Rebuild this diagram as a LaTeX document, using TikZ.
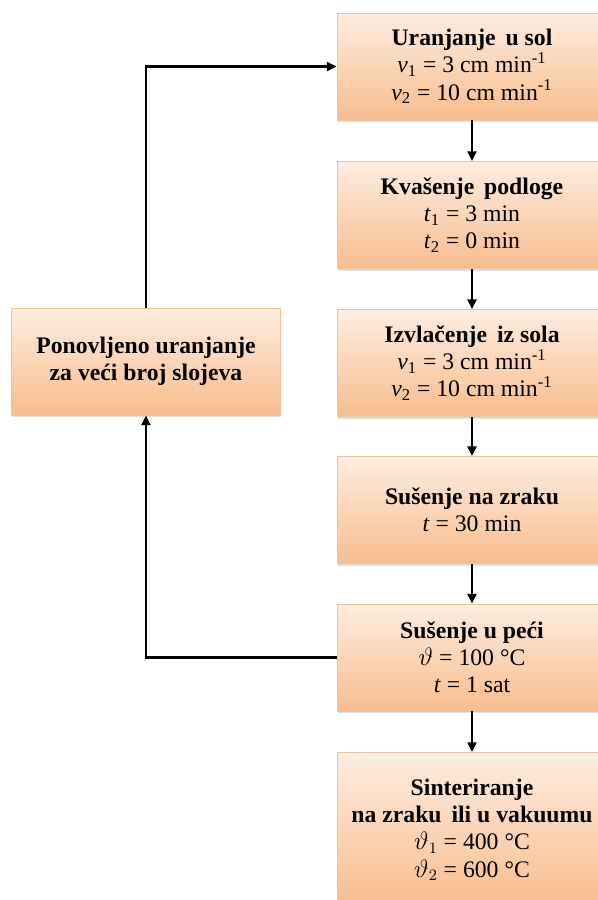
\documentclass[tikz,border=0pt]{standalone}
\usepackage{fontspec}
\setmainfont{Liberation Serif}
\newfontfamily\boxfont{Liberation Serif}
\usetikzlibrary{arrows.meta, positioning, shadows}
\definecolor{peachtop}{RGB}{253,237,224}
\definecolor{peachbot}{RGB}{248,189,141}
\definecolor{peachline}{RGB}{232,196,160}
\newcommand{\vv}[1]{\textit{v}\textsubscript{#1}}
\newcommand{\permin}{min\textsuperscript{-1}}

\begin{document}
\begin{tikzpicture}[
  every node/.style={font=\boxfont\fontsize{13.5}{15.5}\selectfont},
  stepbox/.style={draw=peachline, line width=0.4pt, top color=peachtop, bottom color=peachbot,
    minimum width=5.4cm, minimum height=2.14cm, align=center, inner sep=2pt,
    drop shadow={shadow xshift=0.3pt, shadow yshift=-1.2pt, opacity=0.25}},
  flow/.style={line width=1.35pt, -{Triangle[length=5.5pt,width=5pt]}}]
\useasboundingbox (0,0) rectangle (11.96,-18);
\def\xr{9.44}\def\xl{2.92}
% right column of process steps
\node[stepbox] (uran) at (\xr,-1.33){\textbf{Uranjanje\, u sol}\\ \vv{1} = 3 cm \permin\\ \vv{2} = 10 cm \permin};
\node[stepbox] (kvas) at (\xr,-4.30){\textbf{Kvašenje\, podloge}\\ \textit{t}\textsubscript{1} = 3 min\\ \textit{t}\textsubscript{2} = 0 min};
\node[stepbox] (izvl) at (\xr,-7.26){\textbf{Izvlačenje\, iz sola}\\ \vv{1} = 3 cm \permin\\ \vv{2} = 10 cm \permin};
\node[stepbox] (suzr) at (\xr,-10.20){\textbf{Sušenje na zraku}\\ \textit{t} = 30 min};
\node[stepbox] (supc) at (\xr,-13.15){\textbf{Sušenje u peći}\\ $\vartheta$ = 100 °C\\ \textit{t} = 1 sat};
\node[stepbox, minimum height=3.1cm, anchor=north] (sint) at (\xr,-15.04){\textbf{Sinteriranje}\\ \textbf{na zraku\, ili u vakuumu}\\ $\vartheta_1$ = 400 °C\\ $\vartheta_2$ = 600 °C};
% repeated dipping
\node[stepbox, minimum width=5.38cm] (ponu) at (\xl,-7.23){\textbf{Ponovljeno uranjanje}\\ \textbf{za veći broj slojeva}};
% main flow
\draw[flow] (uran) -- (kvas);
\draw[flow] (kvas) -- (izvl);
\draw[flow] (izvl) -- (suzr);
\draw[flow] (suzr) -- (supc);
\draw[flow] (supc) -- (sint);
% feedback loop
\draw[flow] (supc.west) -| (ponu.south);
\draw[flow] (ponu.north) |- (uran.west);
\end{tikzpicture}
\end{document}
